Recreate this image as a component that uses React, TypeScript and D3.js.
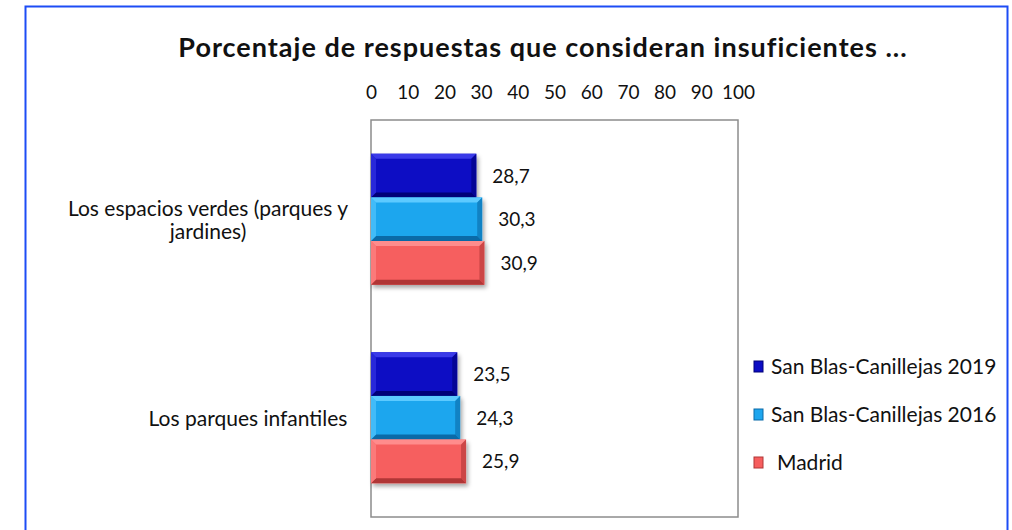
import React, { useEffect, useRef } from "react";
import * as d3 from "d3";

// categories (top to bottom)
const categories = ["Los espacios verdes (parques y jardines)", "Los parques infantiles"];
const categoryLines = [["Los espacios verdes (parques y", "jardines)"], ["Los parques infantiles"]];
// series
const seriesNames = ["San Blas-Canillejas 2019", "San Blas-Canillejas 2016", "Madrid"];
const values2019 = [28.7, 23.5];
const values2016 = [30.3, 24.3];
const valuesMadrid = [30.9, 25.9];
const tickValues = [0, 10, 20, 30, 40, 50, 60, 70, 80, 90, 100];

const seriesColors = [
  { base: "#0c0cc4", light: "#3a3ae8", dark: "#000078" },
  { base: "#1ea6ee", light: "#5ccaff", dark: "#0a6aa8" },
  { base: "#f65e5e", light: "#ff8c8c", dark: "#b03636" },
];

export default function App() {
  const svgRef = useRef<SVGSVGElement | null>(null);

  useEffect(() => {
    const width = 1012;
    const height = 530;
    const font = "Lato, 'Open Sans', sans-serif";
    const plot = { left: 371, right: 738, top: 120, bottom: 517 };
    const seriesValues = [values2019, values2016, valuesMadrid];

    const svg = d3.select(svgRef.current)
      .attr("width", width)
      .attr("height", height)
      .style("font-family", font);
    svg.selectAll("*").remove();

    const defs = svg.append("defs");
    defs.append("filter")
      .attr("id", "shadow")
      .attr("x", "-10%").attr("y", "-20%")
      .attr("width", "130%").attr("height", "160%")
      .append("feDropShadow")
      .attr("dx", 2).attr("dy", 3)
      .attr("stdDeviation", 2)
      .attr("flood-color", "#000")
      .attr("flood-opacity", 0.35);

    svg.append("rect")
      .attr("width", width).attr("height", height)
      .attr("fill", "white");

    // outer frame
    svg.append("rect")
      .attr("x", 25.5).attr("y", 6.5)
      .attr("width", 982).attr("height", 560)
      .attr("fill", "none")
      .attr("stroke", "#1d4cf5")
      .attr("stroke-width", 2);

    // title
    svg.append("text")
      .attr("x", 543).attr("y", 57)
      .attr("text-anchor", "middle")
      .attr("font-size", 27)
      .attr("letter-spacing", 1)
      .attr("font-weight", "bold")
      .attr("fill", "#111")
      .text("Porcentaje de respuestas que consideran insuficientes ...");

    const x = d3.scaleLinear().domain([0, 100]).range([plot.left, plot.right]);
    const y = d3.scaleBand<string>()
      .domain(categories)
      .range([plot.top, plot.bottom])
      .paddingInner(0.34)
      .paddingOuter(0.17);
    const ySeries = d3.scaleBand<string>()
      .domain(seriesNames)
      .range([0, y.bandwidth()]);

    // plot frame
    svg.append("rect")
      .attr("x", plot.left).attr("y", plot.top)
      .attr("width", plot.right - plot.left)
      .attr("height", plot.bottom - plot.top)
      .attr("fill", "none")
      .attr("stroke", "#8c8c8c")
      .attr("stroke-width", 1.5);

    // top axis
    const axis = svg.append("g")
      .attr("transform", `translate(0,${plot.top})`)
      .call(d3.axisTop(x).tickValues(tickValues).tickSize(0).tickPadding(21).tickFormat(d3.format("d")));
    axis.select(".domain").remove();
    axis.selectAll("text")
      .attr("font-size", 19)
      .attr("font-family", font)
      .attr("fill", "#111");

    // category labels
    categories.forEach((c, i) => {
      const lines = categoryLines[i];
      const cy = (y(c) ?? 0) + y.bandwidth() / 2;
      const t = svg.append("text")
        .attr("text-anchor", "middle")
        .attr("font-size", 21)
        .attr("fill", "#111");
      const cx = lines.length > 1 ? 208 : 248;
      lines.forEach((ln, j) => {
        t.append("tspan")
          .attr("x", cx)
          .attr("y", cy + (j - (lines.length - 1) / 2) * 23 + 8)
          .text(ln);
      });
    });

    // bars
    const bev = 5;
    seriesNames.forEach((s, si) => {
      const col = seriesColors[si];
      categories.forEach((c, ci) => {
        const v = seriesValues[si][ci];
        const x0 = x(0);
        const x1 = x(v);
        const y0 = (y(c) ?? 0) + (ySeries(s) ?? 0);
        const h = ySeries.bandwidth();
        const y1 = y0 + h;
        const g = svg.append("g");
        g.append("rect")
          .attr("x", x0).attr("y", y0)
          .attr("width", x1 - x0).attr("height", h)
          .attr("fill", col.base)
          .attr("filter", "url(#shadow)");
        // bevel faces
        g.append("polygon")
          .attr("points", [[x0, y0], [x1, y0], [x1 - bev, y0 + bev], [x0 + bev, y0 + bev]].map(p => p.join(",")).join(" "))
          .attr("fill", col.light);
        g.append("polygon")
          .attr("points", [[x0, y1], [x1, y1], [x1 - bev, y1 - bev], [x0 + bev, y1 - bev]].map(p => p.join(",")).join(" "))
          .attr("fill", col.dark);
        g.append("polygon")
          .attr("points", [[x0, y0], [x0 + bev, y0 + bev], [x0 + bev, y1 - bev], [x0, y1]].map(p => p.join(",")).join(" "))
          .attr("fill", col.light)
          .attr("opacity", 0.6);
        g.append("polygon")
          .attr("points", [[x1, y0], [x1 - bev, y0 + bev], [x1 - bev, y1 - bev], [x1, y1]].map(p => p.join(",")).join(" "))
          .attr("fill", col.dark)
          .attr("opacity", 0.6);

        svg.append("text")
          .attr("x", x1 + 16)
          .attr("y", y0 + h / 2 + 7)
          .attr("font-size", 19)
          .attr("fill", "#111")
          .text(d3.format(".1f")(v).replace(".", ","));
      });
    });

    // legend
    const legendY = [367, 415, 463];
    seriesNames.forEach((s, i) => {
      const col = seriesColors[i];
      svg.append("rect")
        .attr("x", 754).attr("y", legendY[i] - 6)
        .attr("width", 9).attr("height", 11)
        .attr("fill", col.base)
        .attr("stroke", col.dark)
        .attr("stroke-width", 1);
      svg.append("text")
        .attr("x", i === 2 ? 777 : 771)
        .attr("y", legendY[i] + 7)
        .attr("font-size", 21)
        .attr("fill", "#111")
        .text(s);
    });
  }, []);

  return (
    <div style={{ position: "absolute", left: 0, top: 0 }}>
      <svg ref={svgRef} />
    </div>
  );
}
